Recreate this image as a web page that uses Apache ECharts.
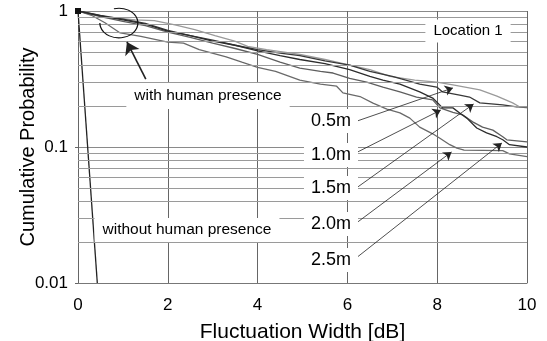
<!DOCTYPE html>
<html>
<head>
<meta charset="utf-8">
<script src="https://cdn.jsdelivr.net/npm/echarts@6/dist/echarts.min.js"></script>
<style>
  html, body { margin: 0; padding: 0; background: #fff; }
  #chart { width: 547px; height: 341px; }
</style>
</head>
<body>
<div id="chart"></div>
<script>
// Cumulative probability of fluctuation width, Location 1
const xTicks = [0, 2, 4, 6, 8, 10];
const yMinorGrid = [0.02, 0.03, 0.04, 0.05, 0.06, 0.07, 0.08, 0.09,
                    0.2, 0.3, 0.4, 0.5, 0.6, 0.7, 0.8, 0.9];

const distances = ['0.5m', '1.0m', '1.5m', '2.0m', '2.5m'];

const cdf05 = [[0,1],[0.67,0.9],[1.27,0.86],[1.7,0.85],[2.16,0.79],[2.6,0.73],[3.05,0.66],[3.49,0.6],[3.78,0.55],[4.2,0.52],[4.94,0.48],[5.5,0.44],[6.05,0.4],[6.5,0.37],[6.95,0.33],[7.5,0.31],[7.99,0.3],[8.35,0.286],[8.95,0.263],[9.33,0.237],[9.68,0.211],[9.84,0.197],[10,0.194]];
const cdf10 = [[0,1],[0.5,0.91],[1.0,0.84],[1.5,0.78],[2.0,0.7],[2.5,0.64],[3.0,0.58],[3.5,0.53],[4.0,0.48],[4.5,0.42],[4.94,0.38],[5.4,0.36],[5.68,0.35],[6.05,0.32],[6.43,0.3],[6.79,0.276],[7.17,0.254],[7.54,0.233],[7.9,0.222],[8.06,0.194],[8.35,0.18],[8.57,0.172],[8.79,0.153],[9.01,0.14],[9.24,0.133],[9.46,0.119],[9.55,0.113],[10,0.109]];
const cdf15 = [[0,1],[0.5,0.93],[1.0,0.87],[1.5,0.81],[2.0,0.72],[2.5,0.66],[3.0,0.61],[3.5,0.56],[4.0,0.52],[4.5,0.49],[4.94,0.47],[5.5,0.43],[6.05,0.4],[6.5,0.36],[7.0,0.33],[7.3,0.31],[7.61,0.29],[7.99,0.276],[8.12,0.254],[8.5,0.241],[8.72,0.233],[8.95,0.211],[9.46,0.204],[9.77,0.197],[10,0.197]];
const cdf20 = [[0,1],[0.3,0.93],[0.6,0.82],[0.94,0.69],[1.4,0.65],[2.0,0.59],[2.35,0.58],[2.7,0.52],[3.3,0.46],[3.65,0.42],[4.0,0.385],[4.4,0.36],[4.94,0.31],[5.4,0.29],[5.76,0.28],[5.9,0.25],[6.28,0.235],[6.57,0.21],[6.88,0.19],[7.17,0.178],[7.39,0.163],[7.61,0.14],[7.9,0.125],[8.06,0.116],[8.28,0.104],[8.44,0.098],[8.6,0.095],[9.46,0.094],[9.61,0.089],[10,0.085]];
const cdf25 = [[0,1],[0.5,0.92],[1.0,0.86],[1.5,0.8],[2.0,0.71],[2.5,0.66],[3.0,0.6],[3.5,0.56],[4.0,0.51],[4.5,0.47],[4.94,0.44],[5.5,0.41],[6.05,0.37],[6.5,0.33],[6.79,0.31],[7.17,0.29],[7.61,0.254],[7.9,0.229],[8.12,0.194],[8.35,0.194],[8.5,0.178],[8.66,0.163],[8.88,0.138],[9.1,0.127],[9.33,0.119],[9.46,0.113],[9.61,0.104],[10,0.1]];
const cdfNoHuman = [[0,1],[0.43,0.01]];

// arrow from each distance label to its curve: [from, to] in data units
const distanceArrows = [
  [[6.21, 0.155], [8.35, 0.272]],
  [[6.23, 0.092], [8.08, 0.187]],
  [[6.23, 0.0508], [8.81, 0.207]],
  [[6.23, 0.0281], [8.32, 0.092]],
  [[6.23, 0.0156], [9.44, 0.107]]
];
const groupArrow = [[1.51, 0.316], [1.09, 0.592]];
const groupCircleCenter = [0.91, 0.816];

const FONT = '"Liberation Sans", Arial, Helvetica, sans-serif';
const curveColors = ['#9a9a9a', '#5e5e5e', '#383838', '#6a6a6a', '#2c2c2c'];
const curves = [cdf05, cdf10, cdf15, cdf20, cdf25];

const chart = echarts.init(document.getElementById('chart'), null, { renderer: 'canvas' });

const series = [
  {
    name: 'grid',
    type: 'line',
    data: [],
    z: 1,
    silent: true,
    markLine: {
      silent: true,
      symbol: ['none', 'none'],
      label: { show: false },
      lineStyle: { color: '#9a9a9a', width: 1, type: 'solid' },
      emphasis: { disabled: true },
      data: yMinorGrid.map(v => ({ yAxis: v }))
    }
  },
  ...curves.map((d, i) => ({
    name: distances[i],
    type: 'line',
    data: d,
    z: 3,
    showSymbol: false,
    symbol: 'none',
    lineStyle: { color: curveColors[i], width: 1.3 },
    silent: true
  })),
  {
    name: 'without human presence',
    type: 'line',
    data: cdfNoHuman,
    z: 4,
    symbol: (value, params) => (params.dataIndex === 0 ? 'rect' : 'none'),
    symbolSize: 6,
    showSymbol: true,
    itemStyle: { color: '#111' },
    lineStyle: { color: '#222', width: 1.3 },
    label: { show: false },
    silent: true
  },
  {
    name: 'arrows',
    type: 'line',
    data: [],
    z: 6,
    silent: true,
    markLine: {
      silent: true,
      symbol: ['none', 'arrow'],
      symbolSize: 8,
      label: { show: false },
      lineStyle: { color: '#222', width: 0.8, type: 'solid' },
      itemStyle: { color: '#111' },
      emphasis: { disabled: true },
      data: distanceArrows.map(a => [{ coord: a[0] }, { coord: a[1] }])
        .concat([[
          { coord: groupArrow[0], lineStyle: { width: 1.6 } },
          { coord: groupArrow[1], lineStyle: { width: 1.6 }, symbolSize: 12 }
        ]])
    }
  }
];

chart.setOption({
  animation: false,
  backgroundColor: '#fff',
  textStyle: { fontFamily: FONT },
  grid: { left: 78, right: 20, top: 11, bottom: 58, containLabel: false, outerBoundsMode: 'none' },
  xAxis: {
    type: 'value',
    min: xTicks[0],
    max: xTicks[xTicks.length - 1],
    interval: 2,
    name: 'Fluctuation Width [dB]',
    nameLocation: 'middle',
    nameGap: 39,
    nameMoveOverlap: false,
    nameTextStyle: { fontSize: 21, color: '#000', fontFamily: FONT },
    axisLine: { show: true, onZero: false, lineStyle: { color: '#777', width: 1 } },
    axisTick: { show: false },
    axisLabel: { fontSize: 17, color: '#000', margin: 14, fontFamily: FONT },
    splitLine: { show: true, lineStyle: { color: '#666', width: 1 } }
  },
  yAxis: {
    type: 'log',
    logBase: 10,
    min: 0.01,
    max: 1,
    name: 'Cumulative Probability',
    nameLocation: 'middle',
    nameGap: 40,
    nameMoveOverlap: false,
    nameTextStyle: { fontSize: 20, color: '#000', fontFamily: FONT },
    axisLine: { show: true, lineStyle: { color: '#666', width: 1 } },
    axisTick: { show: true, length: 3, lineStyle: { color: '#666' } },
    axisLabel: { fontSize: 17, color: '#000', margin: 10, fontFamily: FONT,
                 formatter: v => String(+v.toPrecision(3)) },
    splitLine: { show: true, lineStyle: { color: '#8a8a8a', width: 1 } }
  },
  series: series
});

// text annotations with white boxes that break the grid lines
const toPx = p => chart.convertToPixel({ gridIndex: 0 }, p);
const boxText = (text, x, y, size, pad) => ({
  type: 'text',
  x: x, y: y, z: 100,
  silent: true,
  style: {
    text: text,
    fill: '#000',
    font: size + 'px ' + FONT,
    align: 'center',
    verticalAlign: 'middle',
    backgroundColor: '#fff',
    padding: pad
  }
});

const labelRows = [121, 155, 188, 224, 260];
const graphics = [
  boxText('Location 1', 468, 31, 15, [4, 8]),
  boxText('with human presence', 208, 96, 15.5, [5, 8]),
  boxText('without human presence', 187, 230, 15.5, [4, 8])
];
distances.forEach((d, i) => graphics.push(boxText(d, 331, labelRows[i], 18, [3, 7])));

const c = toPx(groupCircleCenter);
graphics.push({
  type: 'arc',
  x: c[0], y: c[1], z: 50,
  scaleY: 0.78,
  silent: true,
  shape: { cx: 0, cy: 0, r: 19, startAngle: 255 * Math.PI / 180, endAngle: 540 * Math.PI / 180, clockwise: true },
  style: { stroke: '#111', fill: null, lineWidth: 1.3 }
});

chart.setOption({ graphic: graphics });
</script>
</body>
</html>
